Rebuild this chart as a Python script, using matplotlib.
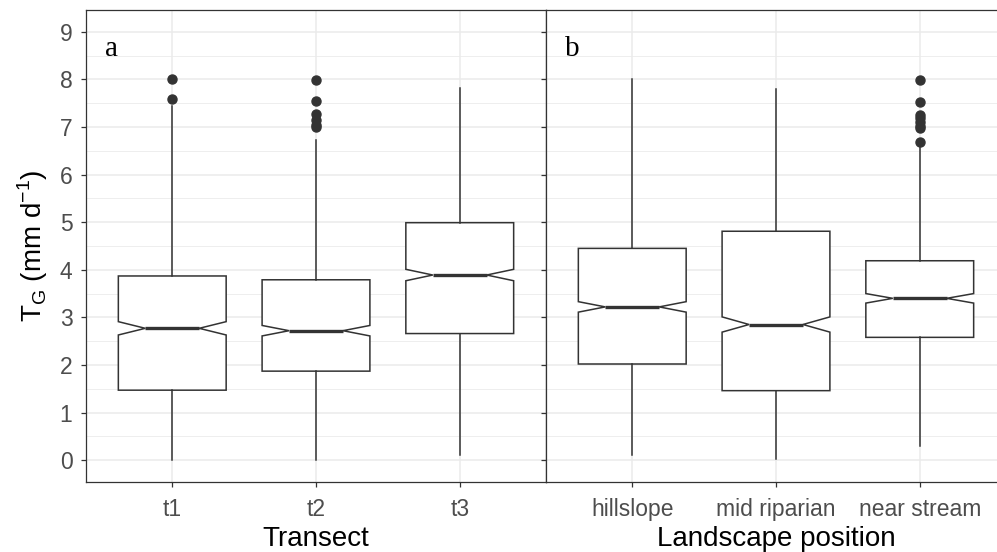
import matplotlib.pyplot as plt
from matplotlib.ticker import MultipleLocator

plt.rcParams['font.family'] = ['Liberation Sans', 'DejaVu Sans']
plt.rcParams['axes.unicode_minus'] = False

# panel a: transects
transects = ["t1", "t2", "t3"]
t_q1 = [1.47, 1.87, 2.66]
t_med = [2.77, 2.72, 3.89]
t_q3 = [3.87, 3.79, 4.99]
t_lo = [0.0, 0.0, 0.10]
t_hi = [7.44, 6.72, 7.83]
t_notch = [0.14, 0.11, 0.12]
t_fliers = [[8.01, 7.60], [7.98, 7.54, 7.28, 7.14, 7.05, 7.00], []]

# panel b: landscape position
positions = ["hillslope", "mid riparian", "near stream"]
p_q1 = [2.02, 1.46, 2.58]
p_med = [3.22, 2.85, 3.40]
p_q3 = [4.45, 4.81, 4.19]
p_lo = [0.10, 0.02, 0.30]
p_hi = [8.0, 7.81, 6.58]
p_notch = [0.11, 0.16, 0.10]
p_fliers = [[], [], [7.98, 7.53, 7.25, 7.18, 7.10, 7.02, 6.97, 6.69]]

DARK = "#333333"
W, H = 997, 552

fig = plt.figure(figsize=(W / 100, H / 100), dpi=100)
ax_a = fig.add_axes([86 / W, 1 - 482 / H, 460 / W, 472 / H])
ax_b = fig.add_axes([546 / W, 1 - 482 / H, 460 / W, 472 / H])


def make_stats(q1, med, q3, lo, hi, notch, fliers):
    out = []
    for i in range(len(med)):
        out.append(dict(q1=q1[i], med=med[i], q3=q3[i], whislo=lo[i], whishi=hi[i],
                        cilo=med[i] - notch[i], cihi=med[i] + notch[i], fliers=fliers[i]))
    return out


def draw(ax, stats, labels, xlabel, letter, show_ylabels):
    ax.bxp(stats, positions=[1, 2, 3], widths=0.75, shownotches=True, showcaps=False,
           patch_artist=True,
           boxprops=dict(facecolor="white", edgecolor=DARK, linewidth=1.1),
           whiskerprops=dict(color=DARK, linewidth=1.1),
           medianprops=dict(color=DARK, linewidth=2.4),
           flierprops=dict(marker="o", markerfacecolor=DARK, markeredgecolor=DARK,
                           markersize=6.5, linestyle="none"))
    ax.set_xlim(0.4, 3.6)
    ax.set_ylim(-0.46, 9.46)
    ax.set_xticks([1, 2, 3])
    ax.set_xticklabels(labels)
    ax.yaxis.set_major_locator(MultipleLocator(1))
    ax.yaxis.set_minor_locator(MultipleLocator(0.5))
    ax.grid(which="major", color="#EBEBEB", linewidth=1.1)
    ax.grid(which="minor", axis="y", color="#EBEBEB", linewidth=0.6)
    ax.set_axisbelow(True)
    ax.tick_params(which="major", color=DARK, length=3.8, width=0.9,
                   labelsize=16.5, labelcolor="#4D4D4D")
    ax.tick_params(axis="x", pad=8)
    ax.tick_params(axis="y", pad=6)
    ax.tick_params(which="minor", length=0)
    if not show_ylabels:
        ax.tick_params(labelleft=False)
    for s in ax.spines.values():
        s.set_color(DARK)
        s.set_linewidth(0.9)
    ax.set_xlabel(xlabel, fontsize=20, labelpad=3)
    ax.text(0.042, 0.9025, letter, transform=ax.transAxes, ha="left", va="baseline",
            fontsize=21, family="Liberation Serif")


draw(ax_a, make_stats(t_q1, t_med, t_q3, t_lo, t_hi, t_notch, t_fliers),
     transects, "Transect", "a", True)
draw(ax_b, make_stats(p_q1, p_med, p_q3, p_lo, p_hi, p_notch, p_fliers),
     positions, "Landscape position", "b", False)

ax_a.set_ylabel(r"T$_{\mathregular{G}}$ (mm d$^{\mathregular{-1}}$)", fontsize=20, labelpad=7)

fig.savefig("out.png", dpi=100)
